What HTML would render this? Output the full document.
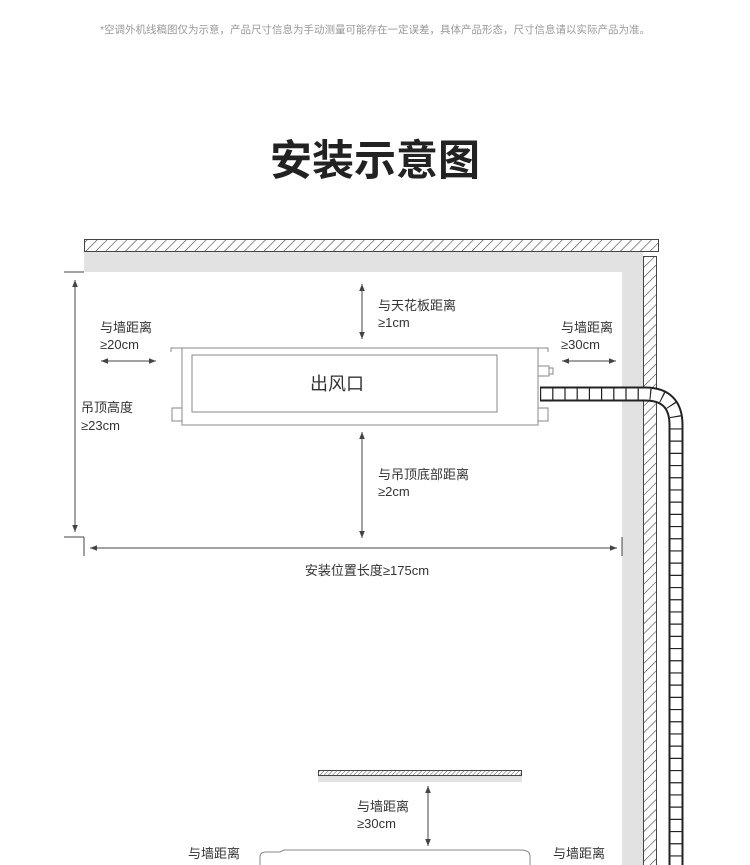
<!DOCTYPE html>
<html><head><meta charset="utf-8"><style>
body{margin:0;background:#fff;}
svg{display:block;font-family:"Liberation Sans","Noto Sans CJK SC",sans-serif;}
</style></head><body>
<svg width="750" height="865" viewBox="0 0 750 865" xmlns="http://www.w3.org/2000/svg">
<defs>
<pattern id="h" width="7" height="7" patternUnits="userSpaceOnUse" patternTransform="rotate(45)">
<rect width="7" height="7" fill="#fff"/><line x1="0" y1="0" x2="0" y2="7" stroke="#444" stroke-width="1.2"/></pattern>
<pattern id="h2" width="3" height="3" patternUnits="userSpaceOnUse" patternTransform="rotate(45)">
<rect width="3" height="3" fill="#fff"/><line x1="0" y1="0" x2="0" y2="3" stroke="#555" stroke-width="1"/></pattern>
<marker id="a" viewBox="0 0 10 10" refX="10" refY="5" markerWidth="7" markerHeight="7" orient="auto-start-reverse"><path d="M0,1 L10,5 L0,9 z" fill="#444"/></marker>
</defs>
<text x="375" y="33" font-size="10.5" fill="#999" text-anchor="middle">*空调外机线稿图仅为示意，产品尺寸信息为手动测量可能存在一定误差，具体产品形态，尺寸信息请以实际产品为准。</text>
<text x="375" y="175" font-size="42" font-weight="bold" fill="#222" text-anchor="middle">安装示意图</text>
<!-- ceiling -->
<rect x="84" y="252" width="559" height="20" fill="#e2e2e2"/>
<rect x="622" y="252" width="21" height="613" fill="#e2e2e2"/>
<rect x="84.5" y="239.5" width="574" height="12" fill="url(#h)" stroke="#444"/>
<rect x="643.5" y="256.5" width="13" height="620" fill="url(#h)" stroke="#444"/>
<!-- unit -->
<rect x="182" y="348" width="356" height="77" fill="#fff" stroke="#888"/>
<path d="M171,352 V348 H182 M538,348 H548 V352" fill="none" stroke="#888"/>
<rect x="192" y="355" width="305" height="57" fill="#fff" stroke="#888"/>
<text x="337" y="390" font-size="18" fill="#333" text-anchor="middle">出风口</text>
<rect x="172" y="408" width="10" height="13" fill="#fff" stroke="#888"/>
<rect x="538" y="408" width="10" height="13" fill="#fff" stroke="#888"/>
<rect x="538" y="366" width="11" height="10" fill="#fff" stroke="#888"/>
<rect x="549" y="368" width="4" height="6" fill="#fff" stroke="#888"/>
<!-- pipe -->
<path d="M540,394 H645 Q676,394 676,425 V865" fill="none" stroke="#222" stroke-width="15"/>
<path d="M540,394 H645 Q676,394 676,425 V865" fill="none" stroke="#fff" stroke-width="11"/>
<path d="M540,394 H645 Q676,394 676,425 V865" fill="none" stroke="#222" stroke-width="11" stroke-dasharray="1.2 11"/>
<!-- arrows -->
<g stroke="#444" stroke-width="1" fill="none">
<line x1="75" y1="280" x2="75" y2="532" marker-start="url(#a)" marker-end="url(#a)"/>
<path d="M64,272 H84 M64,537 H84"/>
<line x1="90" y1="548" x2="617" y2="548" marker-start="url(#a)" marker-end="url(#a)"/>
<line x1="84" y1="537" x2="84" y2="556"/><line x1="622" y1="537" x2="622" y2="556"/>
<line x1="362" y1="284" x2="362" y2="339" marker-start="url(#a)" marker-end="url(#a)"/>
<line x1="362" y1="432" x2="362" y2="538" marker-start="url(#a)" marker-end="url(#a)"/>
<line x1="101" y1="361" x2="156" y2="361" marker-start="url(#a)" marker-end="url(#a)"/>
<line x1="562" y1="361" x2="616" y2="361" marker-start="url(#a)" marker-end="url(#a)"/>
<line x1="428" y1="786" x2="428" y2="846" marker-start="url(#a)" marker-end="url(#a)"/>
</g>
<g font-size="13" fill="#333">
<text x="378" y="310">与天花板距离</text><text x="378" y="327">≥1cm</text>
<text x="100" y="332">与墙距离</text><text x="100" y="349">≥20cm</text>
<text x="561" y="332">与墙距离</text><text x="561" y="349">≥30cm</text>
<text x="81" y="412">吊顶高度</text><text x="81" y="430">≥23cm</text>
<text x="378" y="479">与吊顶底部距离</text><text x="378" y="496">≥2cm</text>
<text x="367" y="575" text-anchor="middle">安装位置长度≥175cm</text>
<text x="357" y="811">与墙距离</text><text x="357" y="828">≥30cm</text>
<text x="188" y="858">与墙距离</text><text x="553" y="858">与墙距离</text>
</g>
<!-- bottom section -->
<rect x="318" y="776" width="204" height="6" fill="#e2e2e2"/>
<rect x="318.5" y="770.5" width="203" height="5" fill="url(#h2)" stroke="#444"/>
<path d="M260,865 V857 Q260,852 266,852 H280 L284,850 H520 Q530,850 530,856 V865" fill="#fff" stroke="#888"/>
</svg>
</body></html>
